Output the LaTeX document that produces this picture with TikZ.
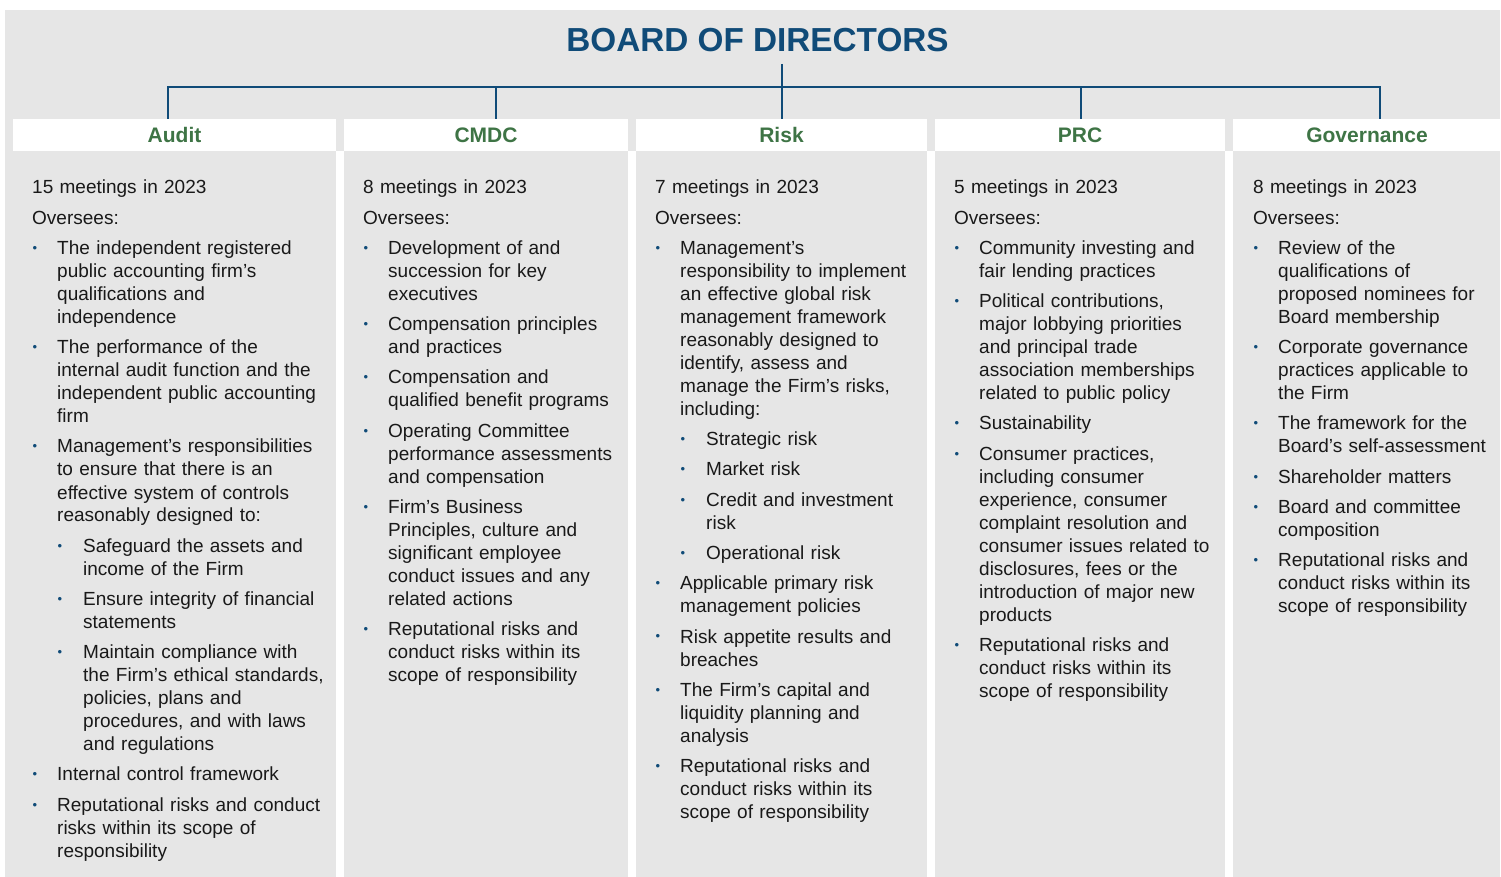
\documentclass[tikz,border=0pt]{standalone}
\usepackage{fontspec}
\setmainfont{Liberation Sans}
\usetikzlibrary{positioning}
\definecolor{boardblue}{RGB}{16,75,120}
\definecolor{headgreen}{RGB}{62,116,69}
\definecolor{panelgray}{RGB}{230,230,230}
\definecolor{bodytext}{RGB}{25,25,25}
\newcommand\bul{\textcolor{boardblue}{\fontsize{13}{13}\selectfont\raisebox{2pt}{\textbullet}}}
\newcommand\gap{\par\vskip7.25pt\relax}
\newcommand\itm[1]{\gap{\let\\\newline\hangindent=25pt\hangafter=1\noindent\hbox to 25pt{\hskip0.5pt\bul\hfil}#1\par}}
\newcommand\subitm[1]{\gap{\let\\\newline\hangindent=51pt\hangafter=1\noindent\hbox to 51pt{\hskip25.5pt\bul\hfil}#1\par}}

\begin{document}
\begin{tikzpicture}[x=1pt,y=-1pt,
    head/.style={fill=white, minimum height=32pt, inner sep=0pt, text height=15pt, text depth=0pt, font=\fontsize{21}{21}\selectfont\bfseries, text=headgreen},
    body/.style={anchor=base west, inner sep=0pt, font=\fontsize{19}{23}\selectfont, text=bodytext},
    link/.style={draw=boardblue, line width=2pt}
]
\useasboundingbox (0,0) rectangle (1501,877);
\fill[panelgray] (5,10) rectangle (1500,877);
\fill[white] (336,151) rectangle (344,877);
\fill[white] (628,151) rectangle (636,877);
\fill[white] (927,151) rectangle (935,877);
\fill[white] (1225,151) rectangle (1233,877);

\node[anchor=base, inner sep=0pt, font=\fontsize{33.3}{33.3}\selectfont\bfseries, text=boardblue] (board) at (757.5,52) {BOARD OF DIRECTORS};

\node[head, minimum width=323pt] (audit) at (174.5,135) {Audit};
\node[head, minimum width=284pt] (cmdc) at (486,135) {CMDC};
\node[head, minimum width=291pt] (risk) at (781.5,135) {Risk};
\node[head, minimum width=290pt] (prc) at (1080,135) {PRC};
\node[head, minimum width=268pt] (gov) at (1367,135) {Governance};

\coordinate (stem) at (782,64);
\coordinate (hub) at (782,87);
\coordinate (dA) at (168,87);
\coordinate (dC) at (496,87);
\coordinate (dP) at (1081,87);
\coordinate (dG) at (1380,87);
\draw[link] (stem) -- (hub);
\draw[link] (audit.north -| dA) -- (dA) -- (dG) -- (dG |- gov.north);
\draw[link] (dC) -- (dC |- cmdc.north);
\draw[link] (hub) -- (hub |- risk.north);
\draw[link] (dP) -- (dP |- prc.north);

\node[body, text width=300pt] (audtxt) at (32,194) {15 meetings in 2023\gap Oversees:
  \itm{The independent registered\\public accounting firm’s\\qualifications and\\independence}
  \itm{The performance of the\\internal audit function and the\\independent public accounting\\firm}
  \itm{Management’s responsibilities\\to ensure that there is an\\effective system of controls\\reasonably designed to:}
  \subitm{Safeguard the assets and\\income of the Firm}
  \subitm{Ensure integrity of financial\\statements}
  \subitm{Maintain compliance with\\the Firm’s ethical standards,\\policies, plans and\\procedures, and with laws\\and regulations}
  \itm{Internal control framework}
  \itm{Reputational risks and conduct\\risks within its scope of\\responsibility}};

\node[body, text width=262pt] (cmdctxt) at (363,194) {8 meetings in 2023\gap Oversees:
  \itm{Development of and\\succession for key\\executives}
  \itm{Compensation principles\\and practices}
  \itm{Compensation and\\qualified benefit programs}
  \itm{Operating Committee\\performance assessments\\and compensation}
  \itm{Firm’s Business\\Principles, culture and\\significant employee\\conduct issues and any\\related actions}
  \itm{Reputational risks and\\conduct risks within its\\scope of responsibility}};

\node[body, text width=270pt] (risktxt) at (655,194) {7 meetings in 2023\gap Oversees:
  \itm{Management’s\\responsibility to implement\\an effective global risk\\management framework\\reasonably designed to\\identify, assess and\\manage the Firm’s risks,\\including:}
  \subitm{Strategic risk}
  \subitm{Market risk}
  \subitm{Credit and investment\\risk}
  \subitm{Operational risk}
  \itm{Applicable primary risk\\management policies}
  \itm{Risk appetite results and\\breaches}
  \itm{The Firm’s capital and\\liquidity planning and\\analysis}
  \itm{Reputational risks and\\conduct risks within its\\scope of responsibility}};

\node[body, text width=268pt] (prctxt) at (954,194) {5 meetings in 2023\gap Oversees:
  \itm{Community investing and\\fair lending practices}
  \itm{Political contributions,\\major lobbying priorities\\and principal trade\\association memberships\\related to public policy}
  \itm{Sustainability}
  \itm{Consumer practices,\\including consumer\\experience, consumer\\complaint resolution and\\consumer issues related to\\disclosures, fees or the\\introduction of major new\\products}
  \itm{Reputational risks and\\conduct risks within its\\scope of responsibility}};

\node[body, text width=245pt] (govtxt) at (1253,194) {8 meetings in 2023\gap Oversees:
  \itm{Review of the\\qualifications of\\proposed nominees for\\Board membership}
  \itm{Corporate governance\\practices applicable to\\the Firm}
  \itm{The framework for the\\Board’s self-assessment}
  \itm{Shareholder matters}
  \itm{Board and committee\\composition}
  \itm{Reputational risks and\\conduct risks within its\\scope of responsibility}};
\end{tikzpicture}
\end{document}
